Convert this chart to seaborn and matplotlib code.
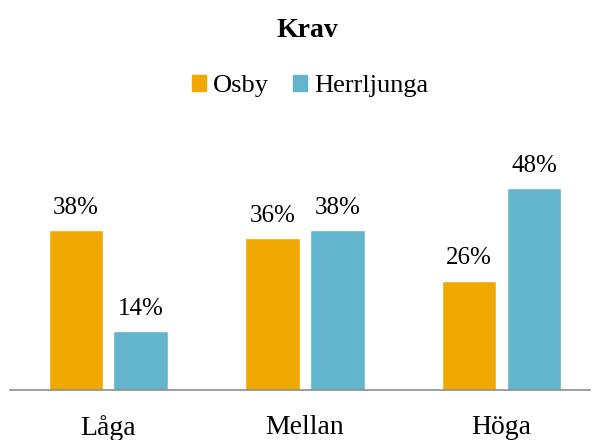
import matplotlib
matplotlib.use("Agg")
import matplotlib.pyplot as plt
import seaborn as sns
import pandas as pd
from matplotlib.patches import Patch

categories = ["Låga", "Mellan", "Höga"]
osby = [38, 36, 26]
herrljunga = [14, 38, 48]
series_names = ["Osby", "Herrljunga"]
colors = ["#F0A900", "#62B5CD"]

df = pd.DataFrame({
    "cat": categories * 2,
    "val": osby + herrljunga,
    "serie": [series_names[0]] * 3 + [series_names[1]] * 3,
})

sns.set_style("white")
plt.rcParams["font.family"] = ["Liberation Serif", "DejaVu Serif"]
plt.rcParams["text.color"] = "black"
plt.rcParams["xtick.color"] = "black"

W, H = 592, 440
fig = plt.figure(figsize=(W / 100, H / 100), dpi=100)
ax = fig.add_axes([10 / W, 50 / H, 580 / W, 252.6 / H])

sns.barplot(data=df, x="cat", y="val", hue="serie", palette=colors,
            width=0.66, gap=0.16, ax=ax, legend=False, saturation=1)
ax.set_ylim(0, 60)
ax.set_xlim(-0.5, 2.45)
for c in ax.containers:
    ax.bar_label(c, labels=[f"{int(v)}%" for v in c.datavalues], padding=8, fontsize=18)

for s in ["top", "left", "right"]:
    ax.spines[s].set_visible(False)
ax.spines["bottom"].set_color("#8C8C8C")
ax.spines["bottom"].set_linewidth(1.2)
ax.set_yticks([])
ax.set_xlabel("")
ax.set_ylabel("")
ax.tick_params(axis="x", length=0, labelsize=20, pad=18, labelcolor="black")

handles = [Patch(color=colors[i], label=series_names[i]) for i in range(2)]
fig.legend(handles=handles, loc="center", bbox_to_anchor=(310 / W, 1 - 86 / H), ncol=2,
           frameon=False, fontsize=19, handlelength=0.55, handleheight=0.55,
           handletextpad=0.25, columnspacing=0.9, labelcolor="black")
fig.text(307 / W, 1 - 37 / H, "Krav", ha="center", va="baseline", fontsize=20, fontweight="bold")

fig.savefig("out.png", dpi=100)
